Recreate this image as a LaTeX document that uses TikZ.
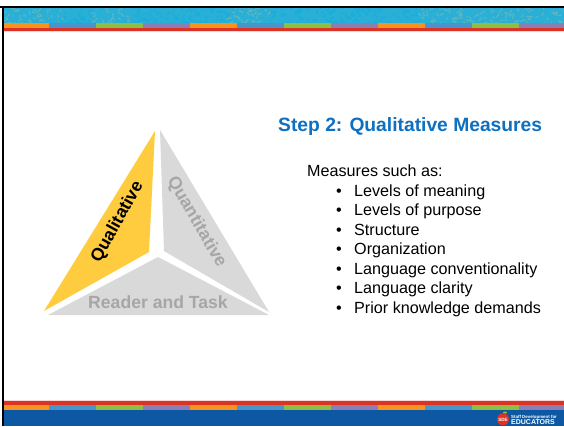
\documentclass[tikz,border=0pt]{standalone}
\usepackage{fontspec}
\setmainfont{Liberation Sans}
\definecolor{sorange}{HTML}{F7941E}
\definecolor{sblue}{HTML}{4A94CC}
\definecolor{sgreen}{HTML}{8CBF44}
\definecolor{spurple}{HTML}{8A7FB5}
\definecolor{sred}{HTML}{DD3327}
\definecolor{sdeep}{HTML}{0C58A2}
\definecolor{steal}{HTML}{2AAFD6}
\definecolor{tealA}{HTML}{6FB8B8}
\definecolor{tealB}{HTML}{12AEDF}
\definecolor{titleblue}{HTML}{0F6FC0}
\definecolor{qyellow}{HTML}{FFCC40}
\definecolor{qgray}{HTML}{D9D9D9}
\definecolor{qtext}{HTML}{A6A6A6}
\tikzset{
  x=1pt,y=-1pt,
  bodyline/.style={anchor=base west,inner sep=0pt,font=\fontsize{16.15}{18}\selectfont,text=black},
  bulletmark/.style={anchor=base,inner sep=0pt,font=\fontsize{16.15}{18}\selectfont,text=black},
  faceword/.style={inner sep=0pt,text=#1,font=\fontsize{17.6}{20}\selectfont\bfseries},
}
\begin{document}
\begin{tikzpicture}
\useasboundingbox (0,0) rectangle (564,426);
\fill[white] (0,0) rectangle (564,426);
% top band
\fill[steal] (4,8) rectangle (564,23);
\pgfmathsetseed{7}
\begin{scope}
\clip (4,8) rectangle (564,23);
\foreach \i in {1,...,420}{
  \pgfmathsetmacro{\px}{4+560*rnd}
  \pgfmathsetmacro{\py}{8+15*rnd}
  \pgfmathsetmacro{\dx}{-5+10*rnd}
  \pgfmathsetmacro{\dy}{-4+8*rnd}
  \pgfmathparse{(\px<60||(\px>90&&\px<130)||(\px>230&&\px<270)||(\px>420))?1:0}
  \ifnum\pgfmathresult=1
    \draw[tealA,line width=1.1pt,opacity=.75] (\px,\py) -- ++(\dx,\dy);
  \else
    \draw[tealB,line width=1.1pt,opacity=.8] (\px,\py) -- ++(\dx,\dy);
  \fi
}
\end{scope}
% colour strips
\foreach \a/\b/\c in {4/49/sorange,49/96/sblue,96/143/sgreen,143/190/spurple,190/237/sorange,237/284/sblue,284/331/sgreen,331/378/spurple,378/425/sorange,425/472/sblue,472/519/sgreen,519/564/spurple}{
  \fill[\c] (\a,23) rectangle (\b,27.5);
  \fill[\c] (\a,405) rectangle (\b,410);
}
\fill[sred] (4,27.5) rectangle (564,31);
\fill[sred!20] (4,31) rectangle (564,32);
\fill[sred!20] (4,399.5) rectangle (564,400.5);
\fill[sred] (4,400.5) rectangle (564,405);
\fill[sdeep] (4,410) rectangle (564,426);
% frame
\fill[black] (0,6) rectangle (564,8);
\fill[black] (2,6) rectangle (4,426);
% triangle
\fill[qyellow] (155,131) -- (149,252) -- (44,311) -- cycle;
\fill[qgray] (160,130) -- (164,251) -- (269,312) -- cycle;
\fill[qgray] (158,257) -- (269,315) -- (48,315) -- cycle;
\node[faceword=black,rotate=61] (qual) at (117.5,222) {Qualitative};
\node[faceword=qtext,rotate=-60] (quant) at (196.5,222) {Quantitative};
\node[faceword=qtext] (reader) at (158,302) {Reader and Task};
% text
\node[anchor=base west,inner sep=0pt,text=titleblue,font=\fontsize{19.25}{22}\selectfont\bfseries] (title) at (278,131) {Step 2: Qualitative Measures};
\node[bodyline] (intro) at (307,176) {Measures such as:};
\foreach \n/\y/\t in {a/196/Levels of meaning,b/215.5/Levels of purpose,c/235/Structure,d/254/Organization,e/274/Language conventionality,f/293/Language clarity,g/313/Prior knowledge demands}{
  \node[bulletmark] (dot\n) at (339,\y) {•};
  \node[bodyline] (item\n) at (354,\y) {\t};
}
% logo
\fill[sred] (503,419.3) circle (6);
\fill[sgreen] (505,412.5) ellipse (2 and 1);
\node[inner sep=0pt,text=white,font=\fontsize{4.6}{5}\selectfont\bfseries] (sdf) at (503,419.5) {SDE};
\node[anchor=base west,inner sep=0pt,text=white,font=\fontsize{4.4}{5}\selectfont\bfseries] (staff) at (511,418.7) {Staff Development for};
\node[anchor=base west,inner sep=0pt,text=white,font=\fontsize{7}{8}\selectfont\bfseries] (edu) at (511,424.4) {EDUCATORS};
\end{tikzpicture}
\end{document}
